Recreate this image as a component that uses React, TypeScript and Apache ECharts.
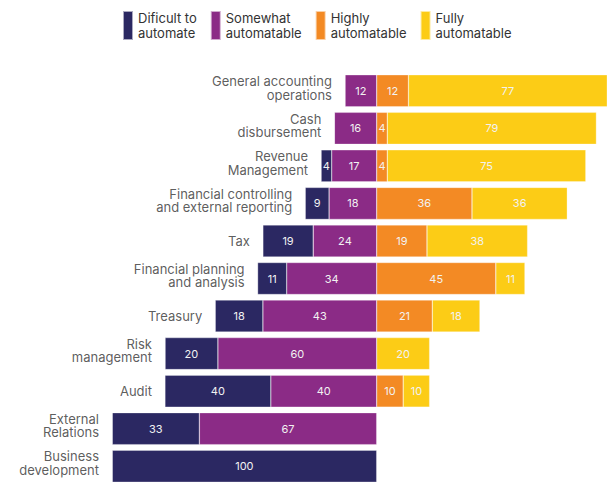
import React, { useEffect, useRef } from "react";
import * as echarts from "echarts";

const categories = [
  "General accounting\noperations",
  "Cash\ndisbursement",
  "Revenue\nManagement",
  "Financial controlling\nand external reporting",
  "Tax",
  "Financial planning\nand analysis",
  "Treasury",
  "Risk\nmanagement",
  "Audit",
  "External\nRelations",
  "Business\ndevelopment",
];

const seriesNames = [
  "Dificult to\nautomate",
  "Somewhat\nautomatable",
  "Highly\nautomatable",
  "Fully\nautomatable",
];

const difficult = [0, 0, 4, 9, 19, 11, 18, 20, 40, 33, 100];
const somewhat = [12, 16, 17, 18, 24, 34, 43, 60, 40, 67, 0];
const highly = [12, 4, 4, 36, 19, 45, 21, 0, 10, 0, 0];
const fully = [77, 79, 75, 36, 38, 11, 18, 20, 10, 0, 0];

const colors = ["#2b2862", "#8b2b86", "#f38a24", "#fccc16"];

export default function App() {
  const ref = useRef<HTMLDivElement>(null);
  useEffect(() => {
    if (!ref.current) return;
    const chart = echarts.init(ref.current, null, { renderer: "svg" });
    const font = "Inter, 'Noto Sans', sans-serif";
    const valueLabel = {
      show: true,
      position: "inside",
      color: "#f2f2f2",
      fontSize: 11,
      fontFamily: font,
      formatter: (p: any) => {
        const v = Math.abs(p.value);
        return v === 0 ? "" : String(v);
      },
    };
    const mkBar = (name: string, data: number[], color: string, neg: boolean) => ({
      name,
      type: "bar",
      stack: "total",
      barWidth: 32,
      data: data.map((v) => (neg ? -v : v)),
      itemStyle: { color, borderColor: "rgba(255,255,255,0.6)", borderWidth: 0.5 },
      label: valueLabel,
      emphasis: { disabled: true },
    });
    chart.setOption({
      animation: false,
      legend: {
        data: seriesNames,
        left: 117,
        top: 5,
        icon: "rect",
        itemWidth: 10,
        itemHeight: 29,
        itemGap: 13,
        selectedMode: false,
        textStyle: { fontSize: 13, lineHeight: 15, color: "#333", fontFamily: font },
      },
      grid: { left: 112, right: 0, top: 72, bottom: -4, containLabel: false },
      xAxis: {
        type: "value",
        min: -100,
        max: 87,
        show: false,
      },
      yAxis: {
        type: "category",
        data: categories,
        inverse: true,
        show: false,
      },
      series: [
        mkBar(seriesNames[1], somewhat, colors[1], true),
        mkBar(seriesNames[0], difficult, colors[0], true),
        mkBar(seriesNames[2], highly, colors[2], false),
        mkBar(seriesNames[3], fully, colors[3], false),
        {
          type: "scatter",
          symbolSize: 0,
          silent: true,
          z: 5,
          data: categories.map((c, i) => ({
            value: [-(difficult[i] + somewhat[i]), i],
            label: c.includes("\n") ? { offset: [0, -3] } : {},
          })),
          label: {
            show: true,
            position: "left",
            distance: 13,
            align: "right",
            color: "#333",
            fontSize: 13,
            lineHeight: 13.5,
            fontFamily: font,
            formatter: (p: any) => categories[p.dataIndex],
          },
        },
      ],
    });
    return () => chart.dispose();
  }, []);
  return (
    <div
      ref={ref}
      style={{ position: "absolute", left: 0, top: 0, width: 607, height: 485, background: "#fff" }}
    />
  );
}
